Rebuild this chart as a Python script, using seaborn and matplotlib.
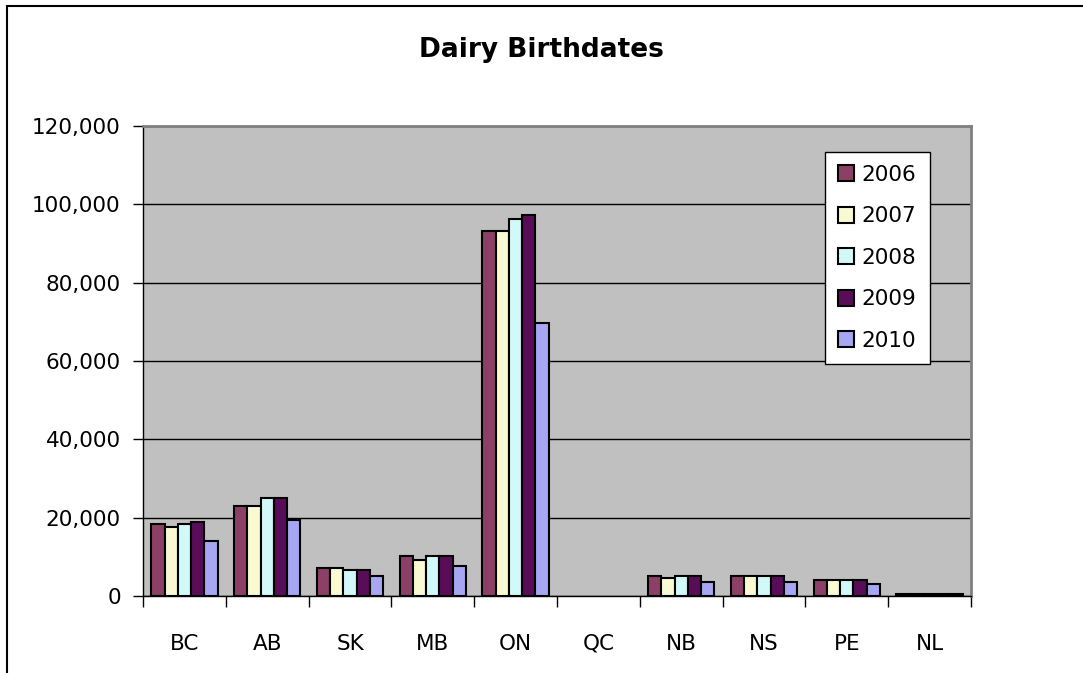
import numpy as np
import pandas as pd
import matplotlib
matplotlib.use("Agg")
import matplotlib.pyplot as plt
from matplotlib.ticker import FuncFormatter
import seaborn as sns

# data (QC has no values)
provinces = ["BC", "AB", "SK", "MB", "ON", "QC", "NB", "NS", "PE", "NL"]
years = ["2006", "2007", "2008", "2009", "2010"]
v2006 = [18500, 23000, 7200, 10300, 93200, np.nan, 5000, 5000, 4200, 500]
v2007 = [17500, 23000, 7200, 9200, 93200, np.nan, 4500, 5000, 4200, 500]
v2008 = [18500, 25000, 6600, 10300, 96300, np.nan, 5000, 5000, 4200, 500]
v2009 = [19000, 25000, 6600, 10300, 97400, np.nan, 5000, 5000, 4200, 500]
v2010 = [14000, 19500, 5000, 7700, 69700, np.nan, 3600, 3600, 3000, 500]
colors = ["#993366", "#FFFFCC", "#CCFFFF", "#660066", "#9999FF"]

rows = []
for yr, vals in zip(years, [v2006, v2007, v2008, v2009, v2010]):
    for p, v in zip(provinces, vals):
        rows.append({"province": p, "year": yr, "births": v})
df = pd.DataFrame(rows)

sns.set_style("white")
plt.rcParams["font.family"] = ["DejaVu Sans"]
plt.rcParams["text.color"] = "black"
plt.rcParams["xtick.color"] = "black"
plt.rcParams["ytick.color"] = "black"
plt.rcParams["xtick.labelcolor"] = "black"
plt.rcParams["ytick.labelcolor"] = "black"

fig = plt.figure(figsize=(10.83, 6.73), dpi=100)
ax = fig.add_axes([143 / 1083, 1 - 596 / 673, 828 / 1083, 470 / 673])
ax.set_facecolor("#C0C0C0")

sns.barplot(data=df, x="province", y="births", hue="year", order=provinces,
            hue_order=years, palette=colors, edgecolor="black", linewidth=1.5,
            width=0.8, errorbar=None, ax=ax, zorder=3)

ax.set_xlim(-0.5, 9.5)
ax.set_ylim(0, 120000)
ax.set_yticks(range(0, 120001, 20000))
ax.yaxis.set_major_formatter(FuncFormatter(lambda v, p: f"{int(v):,}"))
ax.yaxis.grid(True, color="black", linewidth=1, zorder=0)
ax.set_axisbelow(True)
ax.set_xlabel("")
ax.set_ylabel("")

# tick marks between categories, labels in the middle
ax.set_xticks(np.arange(-0.5, 10, 1), minor=True)
ax.tick_params(axis="x", which="major", length=0, pad=27, labelsize=15.5)
ax.tick_params(axis="x", which="minor", length=8, width=1, color="black", bottom=True)
ax.tick_params(axis="y", length=7, width=1, color="black", left=True, pad=9, labelsize=15.5)

for s in ["left", "bottom"]:
    ax.spines[s].set_color("black")
    ax.spines[s].set_linewidth(1)
for s in ["top", "right"]:
    ax.spines[s].set_color("#808080")
    ax.spines[s].set_linewidth(2)

leg = ax.legend(loc="upper left", bbox_to_anchor=(0.824, 0.945), frameon=True,
                fancybox=False, edgecolor="black", framealpha=1, fontsize=15.5,
                handlelength=0.75, handleheight=0.75, handletextpad=0.35,
                labelspacing=1.0, borderpad=0.6, borderaxespad=0)
leg.get_frame().set_linewidth(1)

fig.suptitle("Dairy Birthdates", x=0.5, y=1 - 50 / 673, va="center",
             fontsize=19, fontweight="bold", color="black")

# outer chart border (only top and left visible in the crop)
fig.add_artist(plt.Rectangle((7 / 1083, -0.1), 1.2, 1 - 6 / 673 + 0.1,
                             transform=fig.transFigure, fill=False,
                             edgecolor="black", linewidth=1.5))

fig.savefig("out.png", dpi=100)
